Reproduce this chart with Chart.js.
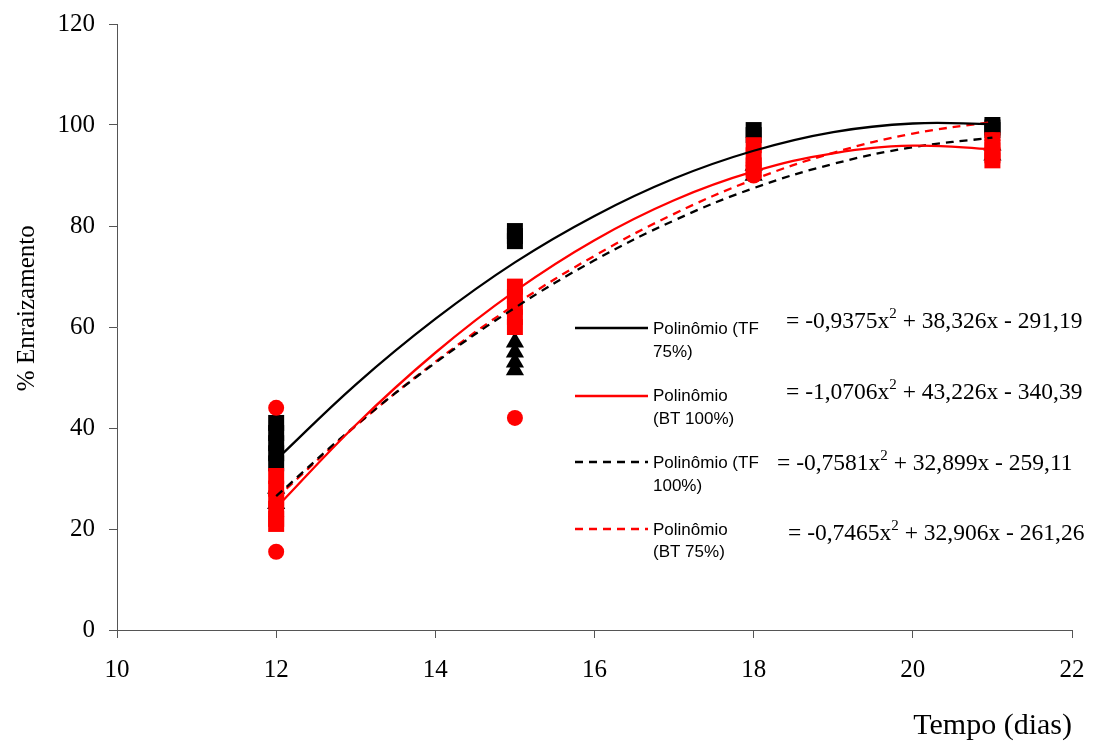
<!DOCTYPE html>
<html>
<head>
<meta charset="utf-8">
<title>% Enraizamento</title>
<script src="https://cdn.jsdelivr.net/npm/chart.js@4.4.0/dist/chart.umd.min.js"></script>
<style>
  body { margin: 0; background: #fff; }
  #wrap { width: 1105px; height: 744px; position: relative; }
</style>
</head>
<body>
<div id="wrap"><canvas id="chart"></canvas></div>
<script>
// observações: dias e % de enraizamento por tratamento
const tf75Days = [12, 12, 12, 12, 12, 15, 15, 15, 18, 18, 21, 21, 21];
const tf75Vals = [41, 39, 37, 35, 33, 79, 78, 77, 99, 98, 100, 99.5, 99];

const bt100Days = [12, 12, 12, 12, 12, 12, 15, 15, 15, 15, 15, 18, 18, 18, 18, 21, 21, 21, 21];
const bt100Vals = [30.5, 28, 26, 24, 22, 21, 68, 66, 64, 62, 60, 96, 94, 92, 91, 97, 95, 94, 93];

const tf100Days = [12, 12, 15, 15, 15, 15, 18, 18, 21, 21];
const tf100Vals = [28, 25, 57, 55, 53, 51.5, 92, 90, 96, 94];

const bt75Days = [12, 12, 12, 15, 15, 18, 18, 21, 21];
const bt75Vals = [44, 15.5, 27, 42, 65, 92, 90, 97, 95];

// linhas de tendência
const trendDays = [12, 13, 14, 15, 16, 17, 18, 19, 20, 21];
const trendTf75 = [33.7, 48.6, 61.6, 72.8, 82.0, 89.4, 94.9, 98.6, 100.3, 100.2];
const trendBt100 = [24.2, 40.6, 54.9, 67.1, 77.2, 85.1, 90.8, 94.4, 95.9, 95.2];
const trendTf100 = [26.5, 40.5, 52.9, 63.8, 73.2, 81.1, 87.5, 92.3, 95.6, 97.5];
const trendBt75 = [26.1, 40.4, 53.1, 64.4, 74.1, 82.4, 89.2, 94.5, 98.3, 100.6];

const legendNames = [["Polinômio (TF", "75%)"], ["Polinômio", "(BT 100%)"], ["Polinômio (TF", "100%)"], ["Polinômio", "(BT 75%)"]];
const equations = [
    ["= -0,9375x", "2", " + 38,326x - 291,19"],
    ["= -1,0706x", "2", " + 43,226x - 340,39"],
    ["= -0,7581x", "2", " + 32,899x - 259,11"],
    ["= -0,7465x", "2", " + 32,906x - 261,26"]
];

const RED = "#ff0000";
const BLACK = "#000000";

function pts(days, vals) {
    return days.map((d, i) => ({ x: d, y: vals[i] }));
}

function trend(vals, color, dash) {
    return {
        data: pts(trendDays, vals),
        showLine: true,
        borderColor: color,
        borderWidth: 2.3,
        borderDash: dash,
        tension: 0.4,
        pointRadius: 0,
        order: 0
    };
}

// legenda desenhada à mão (duas linhas por item + equação)
const legendPlugin = {
    id: "trendLegend",
    afterDraw(chart) {
        const ctx = chart.ctx;
        const styles = [[BLACK, []], [RED, []], [BLACK, [8, 6]], [RED, [8, 6]]];
        const lineY = [328, 396, 462, 529];
        const textY = [[329, 352], [396, 419], [463, 486], [530, 552]];
        const eqX = [786, 786, 777, 788];
        const eqBase = [328, 399, 470, 540];
        ctx.save();
        for (let i = 0; i < 4; i++) {
            ctx.beginPath();
            ctx.strokeStyle = styles[i][0];
            ctx.lineWidth = 2.3;
            ctx.setLineDash(styles[i][1]);
            ctx.moveTo(575, lineY[i]);
            ctx.lineTo(648, lineY[i]);
            ctx.stroke();

            ctx.fillStyle = BLACK;
            ctx.font = "17px 'Liberation Sans', Arial, sans-serif";
            ctx.textBaseline = "middle";
            ctx.textAlign = "left";
            ctx.fillText(legendNames[i][0], 653, textY[i][0]);
            ctx.fillText(legendNames[i][1], 653, textY[i][1]);

            ctx.textBaseline = "alphabetic";
            let x = eqX[i];
            ctx.font = "23.5px 'Liberation Serif', 'Times New Roman', serif";
            ctx.fillText(equations[i][0], x, eqBase[i]);
            x += ctx.measureText(equations[i][0]).width;
            ctx.font = "15px 'Liberation Serif', 'Times New Roman', serif";
            ctx.fillText(equations[i][1], x, eqBase[i] - 10);
            x += ctx.measureText(equations[i][1]).width;
            ctx.font = "23.5px 'Liberation Serif', 'Times New Roman', serif";
            ctx.fillText(equations[i][2], x, eqBase[i]);
        }
        ctx.restore();
    }
};

Chart.defaults.font.family = "'Liberation Serif', 'Times New Roman', serif";
Chart.defaults.color = BLACK;

new Chart(document.getElementById("chart"), {
    type: "scatter",
    data: {
        datasets: [
            trend(trendTf75, BLACK, []),
            trend(trendBt100, RED, []),
            trend(trendTf100, BLACK, [8, 6]),
            trend(trendBt75, RED, [8, 6]),
            {
                data: pts(tf75Days, tf75Vals),
                pointStyle: "rect", pointRadius: 11.3,
                backgroundColor: BLACK, borderColor: BLACK, borderWidth: 0,
                order: 4
            },
            {
                data: pts(tf100Days, tf100Vals),
                pointStyle: "triangle", pointRadius: 10.5,
                backgroundColor: BLACK, borderColor: BLACK, borderWidth: 0,
                order: 3
            },
            {
                data: pts(bt100Days, bt100Vals),
                pointStyle: "rect", pointRadius: 11.3,
                backgroundColor: RED, borderColor: RED, borderWidth: 0,
                order: 2
            },
            {
                data: pts(bt75Days, bt75Vals),
                pointStyle: "circle", pointRadius: 8,
                backgroundColor: RED, borderColor: RED, borderWidth: 0,
                order: 1
            }
        ]
    },
    options: {
        responsive: true,
        maintainAspectRatio: false,
        animation: false,
        events: [],
        layout: { padding: { top: 24, right: 33, left: 0, bottom: 0 } },
        plugins: {
            legend: { display: false },
            tooltip: { enabled: false }
        },
        scales: {
            x: {
                type: "linear",
                min: 10,
                max: 22,
                ticks: { stepSize: 2, font: { size: 25 }, padding: 17, color: BLACK },
                grid: { drawOnChartArea: false, tickLength: 8, color: "#555" },
                border: { color: "#555" },
                title: {
                    display: true,
                    text: "Tempo (dias)",
                    align: "end",
                    color: BLACK,
                    font: { size: 30 },
                    padding: { top: 4, bottom: 0 }
                },
                afterFit: (s) => { s.height = 114; }
            },
            y: {
                min: 0,
                max: 120,
                ticks: { stepSize: 20, font: { size: 25, lineHeight: 0.8 }, padding: 14, color: BLACK },
                grid: { drawOnChartArea: false, tickLength: 8, color: "#555" },
                border: { color: "#555" },
                title: {
                    display: true,
                    text: "      % Enraizamento",
                    color: BLACK,
                    font: { size: 25 },
                    padding: { top: 12, bottom: 0 }
                },
                afterFit: (s) => { s.width = 117; }
            }
        }
    },
    plugins: [legendPlugin]
});
</script>
</body>
</html>
